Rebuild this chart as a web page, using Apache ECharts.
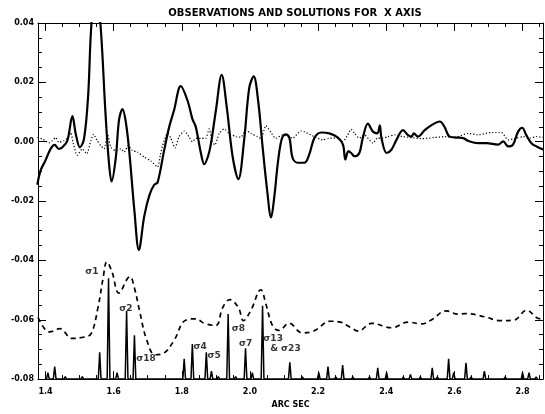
<!DOCTYPE html>
<html><head><meta charset="utf-8">
<script src="https://cdn.jsdelivr.net/npm/echarts@6/dist/echarts.min.js"></script>
<style>html,body{margin:0;padding:0;background:#fff}#c{width:545px;height:414px}</style>
</head><body><div id="c"></div>
<script>
// ---------- data (arc sec, value) ----------
const titleText = 'OBSERVATIONS AND SOLUTIONS FOR  X AXIS';
const xAxisName = 'ARC SEC';
const xRange = [1.378, 2.86];
const yRange = [-0.08, 0.04];
const xMajorTicks = [1.4, 1.6, 1.8, 2.0, 2.2, 2.4, 2.6, 2.8];

const solidX = [1.376,1.386,1.400,1.415,1.427,1.439,1.449,1.464,1.479,1.489,1.501,1.513,1.525,1.535,1.548,1.561,1.576,1.586,1.594,1.606,1.616,1.626,1.636,1.646,1.661,1.674,1.690,1.705,1.719,1.729,1.748,1.763,1.777,1.797,1.817,1.831,1.841,1.856,1.866,1.877,1.885,1.900,1.917,1.932,1.949,1.966,1.983,1.998,2.011,2.024,2.037,2.050,2.062,2.072,2.080,2.088,2.096,2.106,2.116,2.125,2.140,2.160,2.174,2.189,2.209,2.233,2.258,2.273,2.280,2.289,2.297,2.307,2.321,2.331,2.346,2.361,2.374,2.381,2.386,2.401,2.415,2.430,2.449,2.464,2.474,2.481,2.493,2.513,2.532,2.557,2.571,2.586,2.606,2.626,2.640,2.669,2.694,2.728,2.743,2.758,2.772,2.787,2.799,2.811,2.826,2.841,2.862];
const solidY = [-0.0145,-0.0096,-0.0063,-0.0024,-0.0011,-0.0024,-0.0019,0.0003,0.0086,0.0025,-0.0019,0.0009,0.0152,0.040,0.050,0.040,0.0097,-0.0068,-0.0134,-0.0057,0.0075,0.0110,0.0064,-0.0035,-0.0234,-0.0365,-0.0250,-0.0180,-0.0145,-0.0137,-0.0030,0.0050,0.0105,0.0187,0.0138,0.0077,0.0050,-0.0038,-0.0076,-0.0049,-0.0010,0.0105,0.0225,0.0116,-0.0049,-0.0126,0.0006,0.0182,0.0220,0.0138,-0.0016,-0.0159,-0.0255,-0.0180,-0.0090,-0.0020,0.0017,0.0025,0.0012,-0.0054,-0.0071,-0.0071,-0.0043,0.0012,0.0031,0.0028,0.0014,-0.0010,-0.0060,-0.0032,-0.0038,-0.0049,-0.0038,0.0012,0.0061,0.0034,0.0028,0.0055,0.0012,-0.0038,-0.0027,0.0006,0.0039,0.0022,0.0017,0.0028,0.0017,0.0039,0.0055,0.0068,0.0050,0.0017,0.0014,0.0012,0.0003,-0.0005,-0.0005,-0.0010,0.0001,-0.0016,-0.0010,0.0034,0.0047,0.0022,-0.0005,-0.0016,-0.0027];

const dottedX = [1.376,1.391,1.400,1.410,1.420,1.430,1.439,1.454,1.466,1.474,1.482,1.493,1.508,1.521,1.533,1.541,1.552,1.562,1.572,1.582,1.592,1.606,1.621,1.631,1.643,1.655,1.670,1.690,1.709,1.729,1.737,1.743,1.758,1.768,1.780,1.792,1.807,1.821,1.831,1.841,1.856,1.870,1.880,1.890,1.897,1.910,1.924,1.939,1.959,1.973,1.988,2.003,2.022,2.032,2.047,2.061,2.076,2.096,2.125,2.149,2.160,2.189,2.213,2.233,2.258,2.273,2.287,2.297,2.307,2.321,2.336,2.361,2.374,2.391,2.405,2.425,2.449,2.474,2.503,2.542,2.571,2.601,2.640,2.669,2.709,2.738,2.758,2.782,2.802,2.821,2.841,2.862];
const dottedY = [0.0014,0.0009,0.0003,-0.0004,0.0003,0.0014,-0.0002,0.0003,0.0014,0.0031,-0.0008,-0.0046,-0.0024,-0.0041,0.0003,0.0025,0.0003,-0.0013,-0.0024,0.0025,-0.0019,-0.0030,-0.0024,-0.0035,-0.0013,-0.0030,-0.0035,-0.0052,-0.0065,-0.0085,-0.0046,-0.0016,0.0028,0.0012,-0.0021,0.0017,0.0036,0.0017,0.0000,0.0011,0.0011,0.0011,0.0043,0.0000,-0.0011,0.0028,0.0043,0.0028,0.0017,0.0015,0.0038,0.0028,0.0017,0.0011,0.0054,0.0032,0.0011,0.0023,0.0012,0.0036,0.0033,0.0017,0.0006,0.0012,0.0012,0.0000,0.0023,0.0042,0.0028,0.0012,0.0023,-0.0005,0.0012,0.0012,0.0017,0.0023,0.0017,0.0014,0.0010,0.0014,0.0017,0.0014,0.0028,0.0023,0.0031,0.0031,0.0006,0.0012,0.0017,0.0012,0.0017,0.0014];

const dashedX = [1.378,1.397,1.412,1.442,1.478,1.514,1.534,1.554,1.569,1.580,1.595,1.615,1.641,1.648,1.661,1.676,1.697,1.722,1.748,1.778,1.809,1.839,1.870,1.900,1.920,1.941,1.966,1.981,2.002,2.032,2.047,2.066,2.085,2.115,2.153,2.187,2.236,2.265,2.294,2.318,2.357,2.416,2.464,2.503,2.532,2.576,2.610,2.634,2.688,2.736,2.775,2.812,2.843,2.860];
const dashedY = [-0.0592,-0.0630,-0.0641,-0.0630,-0.0663,-0.0658,-0.0647,-0.0559,-0.0460,-0.0405,-0.0438,-0.0510,-0.0460,-0.0455,-0.0493,-0.0570,-0.0668,-0.0718,-0.0712,-0.0668,-0.0603,-0.0597,-0.0614,-0.0619,-0.0559,-0.0532,-0.0559,-0.0603,-0.0570,-0.0499,-0.0548,-0.0619,-0.0636,-0.0612,-0.0644,-0.0638,-0.0605,-0.0608,-0.0625,-0.0638,-0.0612,-0.0627,-0.0608,-0.0614,-0.0601,-0.0570,-0.0581,-0.0579,-0.0590,-0.0603,-0.0601,-0.0568,-0.0594,-0.0598];

const spikeBase = -0.08;
const spikeX = [1.407,1.427,1.458,1.508,1.559,1.585,1.610,1.638,1.661,1.686,1.707,1.758,1.807,1.831,1.872,1.887,1.907,1.936,1.958,1.987,2.007,2.037,2.058,2.117,2.154,2.202,2.229,2.252,2.272,2.302,2.351,2.375,2.401,2.450,2.471,2.500,2.535,2.550,2.583,2.598,2.634,2.649,2.688,2.749,2.800,2.819,2.840];
const spikeY = [-0.0778,-0.0758,-0.0792,-0.0792,-0.0710,-0.0460,-0.0778,-0.0570,-0.0652,-0.0795,-0.0795,-0.0795,-0.0732,-0.0682,-0.0710,-0.0773,-0.0792,-0.0581,-0.0792,-0.0696,-0.0778,-0.0553,-0.0795,-0.0743,-0.0793,-0.0778,-0.0758,-0.0793,-0.0753,-0.0793,-0.0793,-0.0762,-0.0778,-0.0793,-0.0784,-0.0793,-0.0762,-0.0793,-0.0732,-0.0778,-0.0745,-0.0793,-0.0773,-0.0793,-0.0778,-0.0778,-0.0793];

const labelText = ['σ1','σ2','σ18','σ4','σ5','σ8','σ7','σ13','& σ23'];
const labelX = [1.536,1.636,1.695,1.854,1.895,1.966,1.987,2.068,2.104];
const labelY = [-0.0438,-0.0562,-0.0732,-0.0690,-0.0721,-0.0630,-0.0680,-0.0663,-0.0698];

// ---------- build ----------
const zip = (a, b) => a.map((v, i) => [v, b[i]]);
const xMinorTicks = [];
for (let v = 1.40; v < xRange[1] + 1e-9; v += 0.05) xMinorTicks.push(+v.toFixed(2));

const spikeData = [];
const hw = 0.004;
spikeX.forEach((x, i) => {
  spikeData.push([x - hw, spikeBase], [x, spikeY[i]], [x + hw, spikeBase]);
});

const FONT = 'DejaVu Sans';
const black = '#000';
function xAx(pos, vals, len, showLabel, showLine) {
  return {
    type: 'value', position: pos, min: xRange[0], max: xRange[1],
    axisLine: {show: showLine, onZero: false, lineStyle: {color: black, width: 1}},
    axisTick: {show: true, inside: true, length: len, customValues: vals, lineStyle: {color: black, width: 1}},
    axisLabel: showLabel ? {show: true, customValues: xMajorTicks, formatter: v => v.toFixed(1), color: black,
      fontFamily: FONT, fontWeight: 'bold', fontSize: 8, margin: 9} : {show: false},
    splitLine: {show: false}
  };
}
function yAx(pos, showLabel) {
  return {
    type: 'value', position: pos, min: yRange[0], max: yRange[1], interval: 0.02,
    axisLine: {show: true, lineStyle: {color: black, width: 1}},
    axisTick: {show: true, inside: true, length: 8, lineStyle: {color: black, width: 1}},
    minorTick: {show: true, splitNumber: 4, length: 4, lineStyle: {color: black, width: 1}},
    axisLabel: showLabel ? {show: true, color: black, fontFamily: FONT, fontWeight: 'bold', fontSize: 8, margin: 4,
      formatter: v => (v < 0 ? '-' : '') + Math.abs(v).toFixed(2)} : {show: false},
    splitLine: {show: false}
  };
}
const xA = [
  xAx('bottom', xMajorTicks, 8, true, true),
  xAx('bottom', xMinorTicks, 4, false, false),
  xAx('top', xMajorTicks, 8, false, true),
  xAx('top', xMinorTicks, 4, false, false)
];
xA[0].name = xAxisName;
xA[0].nameLocation = 'middle';
xA[0].nameGap = 21;
xA[0].nameTextStyle = {color: black, fontFamily: FONT, fontWeight: 'bold', fontSize: 8};

const chart = echarts.init(document.getElementById('c'), null, {renderer: 'canvas'});
chart.setOption({
  animation: false,
  backgroundColor: '#fff',
  grid: {left: 38, right: 2, top: 23, bottom: 28, containLabel: false},
  graphic: [{type: 'text', x: 295, y: 13, style: {text: titleText, fill: black, font: 'bold 10px "DejaVu Sans"', textAlign: 'center', textVerticalAlign: 'middle'}}],
  xAxis: xA,
  yAxis: [yAx('left', true), yAx('right', false)],
  series: [
    {type: 'line', data: zip(solidX, solidY), showSymbol: false, smooth: 0.35, clip: true,
     lineStyle: {color: black, width: 2.2}},
    {type: 'line', data: zip(dottedX, dottedY), showSymbol: false, smooth: 0.2, clip: true,
     lineStyle: {color: black, width: 1.2, type: [1.2, 2]}},
    {type: 'line', data: zip(dashedX, dashedY), showSymbol: false, smooth: 0.4, clip: true,
     lineStyle: {color: black, width: 1.7, type: [5, 4]}},
    {type: 'line', data: spikeData, showSymbol: false, clip: true,
     lineStyle: {color: black, width: 1.5}},
    {type: 'scatter', data: labelX.map((x, i) => [x, labelY[i], labelText[i]]), symbolSize: 0,
     label: {show: true, position: 'inside', formatter: p => p.data[2], color: black,
       fontFamily: FONT, fontWeight: 'bold', fontSize: 9}}
  ]
});
</script>
</body></html>
